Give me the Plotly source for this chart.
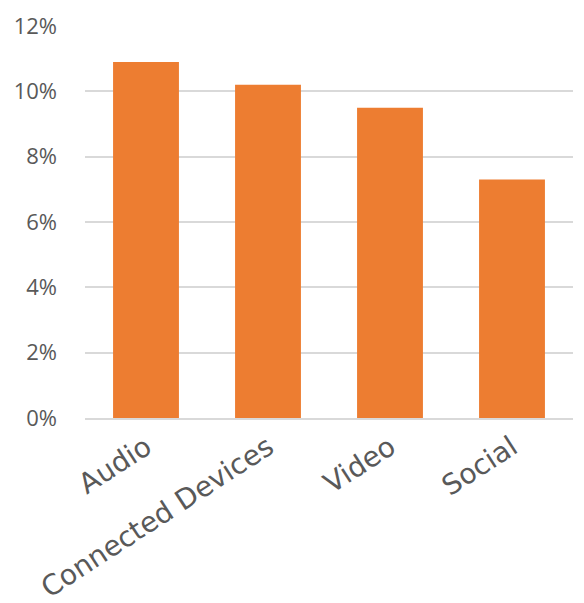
import plotly.graph_objects as go

categories = ["Audio", "Connected Devices", "Video", "Social"]
values = [10.9, 10.2, 9.5, 7.3]
tick_vals = [0, 2, 4, 6, 8, 10, 12]
tick_text = ["0%", "2%", "4%", "6%", "8%", "10%", "12%"]

fig = go.Figure(go.Bar(
    x=categories, y=values,
    marker=dict(color="#ED7D31", line=dict(width=0)),
))

fig.update_layout(
    width=584, height=603,
    margin=dict(l=77, r=19, t=18, b=193, autoexpand=False),
    paper_bgcolor="white", plot_bgcolor="white",
    bargap=0.46,
    showlegend=False,
    font=dict(family="Open Sans", size=22, color="#595959"),
)
fig.update_xaxes(
    tickangle=-33, showgrid=False, showline=True, linecolor="#D9D9D9", linewidth=2,
    ticks="", automargin=False,
    tickfont=dict(family="DejaVu Sans", size=28, color="#595959"),
)
fig.update_yaxes(
    range=[0, 12], tickvals=tick_vals, ticktext=tick_text,
    showgrid=True, gridcolor="#D9D9D9", gridwidth=2, zeroline=False,
    showline=False, ticks="", ticklabelstandoff=27, automargin=False,
    tickfont=dict(family="Open Sans", size=22, color="#595959"),
)

fig.write_html("out.html")
